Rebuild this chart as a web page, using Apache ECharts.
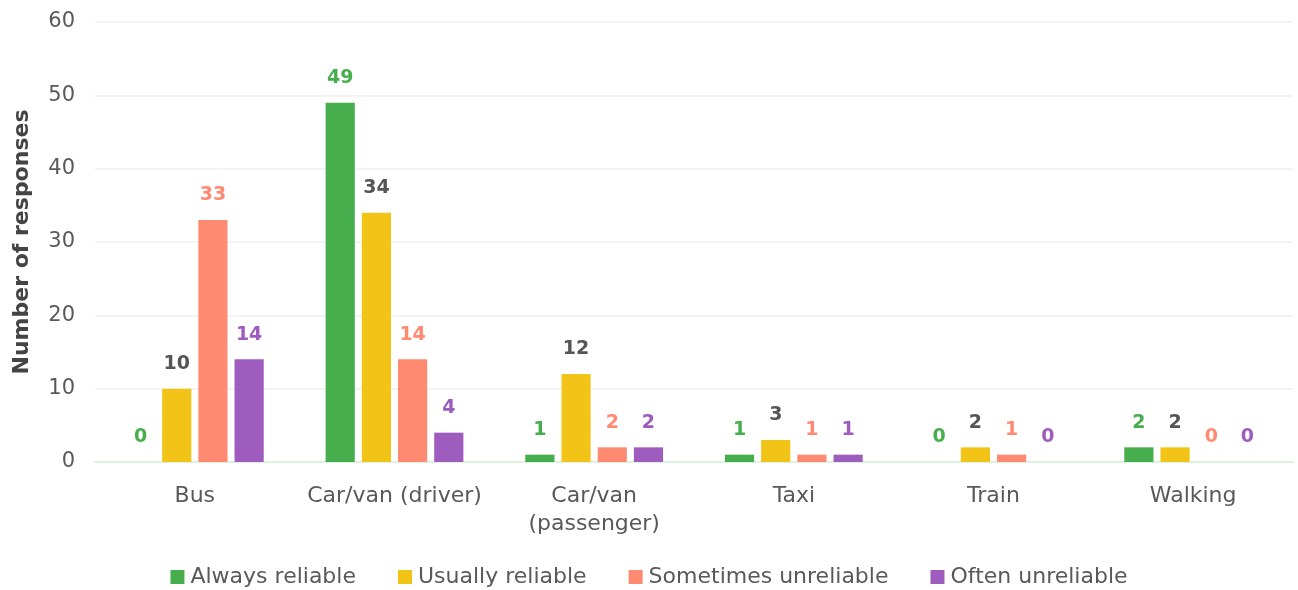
<!DOCTYPE html>
<html>
<head>
<meta charset="utf-8">
<script src="https://cdn.jsdelivr.net/npm/echarts@6/dist/echarts.min.js"></script>
<style>
  html, body { margin: 0; padding: 0; background: #ffffff; }
  #chart { width: 1298px; height: 590px; }
</style>
</head>
<body>
<div id="chart"></div>
<script>
// Travel modes and how reliable respondents find them
const categories = ['Bus', 'Car/van (driver)', 'Car/van\n(passenger)', 'Taxi', 'Train', 'Walking'];
const seriesNames = ['Always reliable', 'Usually reliable', 'Sometimes unreliable', 'Often unreliable'];
const alwaysReliable = [0, 49, 1, 1, 0, 2];
const usuallyReliable = [10, 34, 12, 3, 2, 2];
const sometimesUnreliable = [33, 14, 2, 1, 1, 0];
const oftenUnreliable = [14, 4, 2, 1, 0, 0];
const yTicks = { min: 0, max: 60, interval: 10 };

const colors = ['#46ae4c', '#f2c418', '#ff8a72', '#9e5cbf'];
const labelColors = ['#46ae4c', '#555555', '#ff8a72', '#9e5cbf'];
const values = [alwaysReliable, usuallyReliable, sometimesUnreliable, oftenUnreliable];
const FONT = '"DejaVu Sans", "Noto Sans", sans-serif';

const chart = echarts.init(document.getElementById('chart'), null, { renderer: 'canvas' });

chart.setOption({
  animation: false,
  textStyle: { fontFamily: FONT },
  grid: { left: 95, right: 5, top: 22, bottom: 128, containLabel: false },
  legend: {
    bottom: -3,
    left: 'center',
    itemWidth: 14,
    itemHeight: 14,
    itemGap: 42,
    icon: 'rect',
    textStyle: { fontSize: 22, color: '#595959', fontFamily: FONT, padding: [0, 0, 0, 1] },
    data: seriesNames
  },
  xAxis: {
    type: 'category',
    data: categories,
    axisLine: { show: true, lineStyle: { color: '#dff2df', width: 2 } },
    axisTick: { show: false },
    axisLabel: { interval: 0, fontSize: 22, color: '#595959', margin: 20, lineHeight: 28, fontFamily: FONT }
  },
  yAxis: {
    type: 'value',
    min: yTicks.min,
    max: yTicks.max,
    interval: yTicks.interval,
    name: 'Number of responses',
    nameLocation: 'middle',
    nameGap: 62,
    nameTextStyle: { fontSize: 22, fontWeight: 'bold', color: '#444444', fontFamily: FONT },
    axisLine: { show: false },
    axisTick: { show: false },
    axisLabel: { fontSize: 21, color: '#595959', margin: 20, fontFamily: FONT },
    splitLine: { lineStyle: { color: '#efefef', width: 1.5 } }
  },
  series: seriesNames.map((name, i) => ({
    name,
    type: 'bar',
    data: values[i],
    barGap: '24%',
    barCategoryGap: '31%',
    itemStyle: { color: colors[i] },
    label: {
      show: true,
      position: 'top',
      distance: 15,
      fontSize: 19,
      fontWeight: 'bold',
      color: labelColors[i],
      fontFamily: FONT
    }
  }))
});
</script>
</body>
</html>
